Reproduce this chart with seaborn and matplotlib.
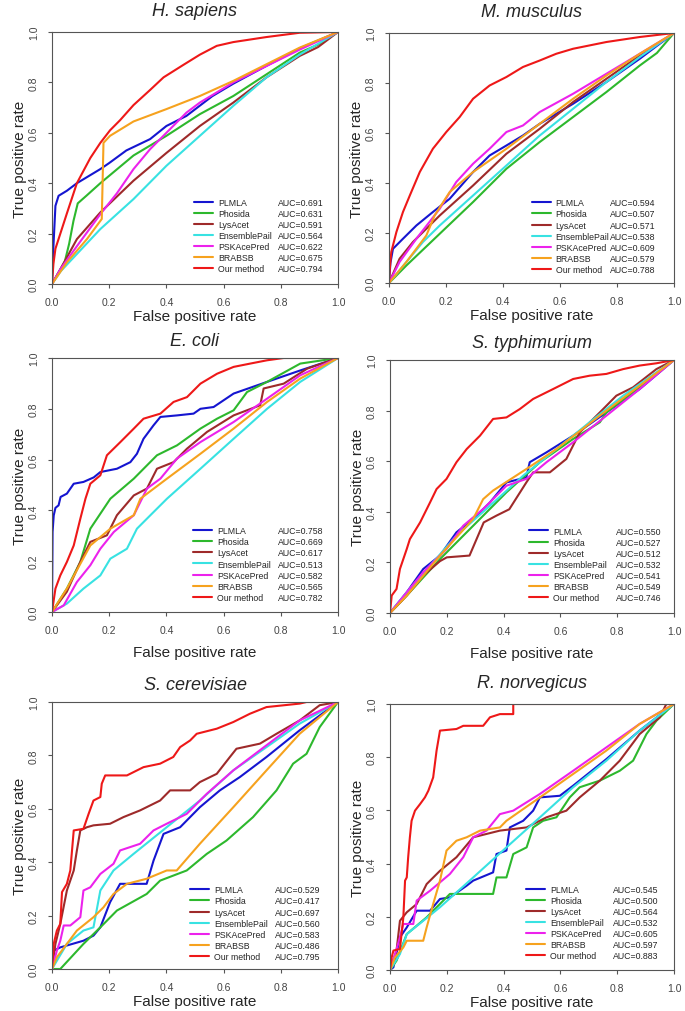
import pandas as pd
import matplotlib
matplotlib.use("Agg")
import matplotlib.pyplot as plt
from matplotlib.lines import Line2D
import seaborn as sns

# methods / colours shared by all panels
methods = ["PLMLA", "Phosida", "LysAcet", "EnsemblePail", "PSKAcePred", "BRABSB", "Our method"]
colors = ["#1515d0", "#2db82d", "#9e2a2a", "#38e2e2", "#ec22ec", "#f6a21e", "#ee1818"]
ticks = [0.0, 0.2, 0.4, 0.6, 0.8, 1.0]

# H. sapiens
hs_plmla = [(0,0),(0.005,0.15),(0.012,0.31),(0.023,0.35),(0.052,0.37),(0.087,0.40),(0.169,0.456),(0.2,0.48),(0.26,0.53),(0.343,0.575),(0.40,0.627),(0.47,0.667),(0.56,0.745),(0.634,0.795),(0.75,0.866),(0.866,0.935),(1,1)]
hs_phosida = [(0,0),(0.02,0.04),(0.045,0.09),(0.06,0.16),(0.075,0.25),(0.09,0.32),(0.12,0.35),(0.169,0.40),(0.285,0.51),(0.40,0.588),(0.517,0.674),(0.634,0.746),(0.75,0.832),(0.866,0.918),(0.93,0.95),(1,1)]
hs_lysacet = [(0,0),(0.03,0.06),(0.087,0.178),(0.169,0.284),(0.285,0.41),(0.40,0.52),(0.517,0.627),(0.634,0.72),(0.75,0.82),(0.866,0.905),(0.93,0.94),(1,1)]
hs_ensemble = [(0,0),(0.03,0.05),(0.087,0.119),(0.169,0.218),(0.285,0.337),(0.40,0.469),(0.517,0.588),(0.634,0.707),(0.75,0.82),(0.866,0.91),(1,1)]
hs_psk = [(0,0),(0.03,0.06),(0.087,0.15),(0.169,0.277),(0.227,0.36),(0.285,0.456),(0.343,0.535),(0.40,0.60),(0.47,0.68),(0.517,0.72),(0.634,0.80),(0.75,0.865),(0.866,0.93),(1,1)]
hs_brabsb = [(0,0),(0.052,0.086),(0.122,0.178),(0.174,0.258),(0.18,0.56),(0.203,0.588),(0.285,0.645),(0.40,0.694),(0.517,0.746),(0.634,0.806),(0.75,0.872),(0.866,0.938),(1,1)]
hs_ours = [(0,0),(0.005,0.08),(0.012,0.14),(0.052,0.28),(0.087,0.40),(0.134,0.50),(0.169,0.56),(0.203,0.61),(0.238,0.65),(0.285,0.71),(0.343,0.77),(0.39,0.82),(0.46,0.87),(0.517,0.91),(0.576,0.945),(0.634,0.96),(0.75,0.98),(0.866,0.997),(1,1)]
hs_auc = [0.691, 0.631, 0.591, 0.564, 0.622, 0.675, 0.794]

# M. musculus
mm_plmla = [(0,0),(0.005,0.08),(0.014,0.137),(0.049,0.177),(0.096,0.23),(0.154,0.284),(0.213,0.337),(0.295,0.444),(0.353,0.51),(0.412,0.55),(0.47,0.59),(0.529,0.637),(0.646,0.717),(0.763,0.804),(0.88,0.897),(1,1)]
mm_phosida = [(0,0),(0.061,0.07),(0.178,0.197),(0.295,0.324),(0.412,0.457),(0.529,0.564),(0.646,0.664),(0.763,0.764),(0.88,0.87),(0.94,0.92),(1,1)]
mm_lysacet = [(0,0),(0.037,0.097),(0.084,0.164),(0.178,0.27),(0.295,0.39),(0.412,0.517),(0.529,0.617),(0.646,0.724),(0.763,0.817),(0.88,0.91),(1,1)]
mm_ensemble = [(0,0),(0.061,0.084),(0.119,0.164),(0.178,0.23),(0.295,0.35),(0.412,0.47),(0.529,0.59),(0.646,0.697),(0.763,0.804),(0.88,0.904),(1,1)]
mm_psk = [(0,0),(0.037,0.084),(0.096,0.177),(0.178,0.297),(0.236,0.404),(0.295,0.477),(0.353,0.537),(0.412,0.604),(0.47,0.63),(0.529,0.684),(0.646,0.757),(0.763,0.837),(0.88,0.917),(1,1)]
mm_brabsb = [(0,0),(0.061,0.084),(0.131,0.19),(0.16,0.27),(0.213,0.364),(0.295,0.444),(0.412,0.537),(0.529,0.637),(0.646,0.737),(0.763,0.83),(0.88,0.917),(1,1)]
mm_ours = [(0,0),(0.003,0.06),(0.008,0.124),(0.026,0.204),(0.049,0.284),(0.073,0.35),(0.108,0.444),(0.154,0.537),(0.201,0.604),(0.248,0.664),(0.295,0.737),(0.353,0.79),(0.412,0.824),(0.47,0.864),(0.529,0.89),(0.587,0.917),(0.646,0.937),(0.763,0.964),(0.88,0.984),(1,1)]
mm_auc = [0.594, 0.507, 0.571, 0.538, 0.609, 0.579, 0.788]

# E. coli
ec_plmla = [(0,0),(0.002,0.315),(0.006,0.38),(0.012,0.41),(0.023,0.42),(0.03,0.453),(0.052,0.466),(0.076,0.505),(0.11,0.512),(0.146,0.53),(0.169,0.551),(0.227,0.564),(0.274,0.59),(0.297,0.623),(0.32,0.682),(0.355,0.735),(0.379,0.768),(0.437,0.774),(0.495,0.781),(0.519,0.80),(0.565,0.807),(0.635,0.86),(0.752,0.906),(0.868,0.951),(1,1)]
ec_phosida = [(0,0),(0.052,0.092),(0.099,0.197),(0.134,0.328),(0.204,0.446),(0.286,0.525),(0.367,0.617),(0.437,0.656),(0.519,0.722),(0.577,0.761),(0.635,0.794),(0.682,0.866),(0.752,0.906),(0.868,0.978),(1,1)]
ec_lysacet = [(0,0),(0.052,0.08),(0.099,0.197),(0.134,0.276),(0.192,0.302),(0.227,0.381),(0.286,0.459),(0.332,0.486),(0.367,0.564),(0.425,0.59),(0.472,0.643),(0.542,0.709),(0.635,0.774),(0.728,0.814),(0.74,0.88),(0.81,0.899),(0.892,0.958),(1,1)]
ec_ensemble = [(0,0),(0.052,0.033),(0.11,0.092),(0.169,0.144),(0.204,0.21),(0.262,0.249),(0.297,0.328),(0.344,0.381),(0.402,0.446),(0.519,0.564),(0.635,0.682),(0.752,0.80),(0.868,0.906),(1,1)]
ec_psk = [(0,0),(0.041,0.026),(0.087,0.118),(0.134,0.184),(0.169,0.249),(0.216,0.315),(0.286,0.381),(0.332,0.486),(0.379,0.525),(0.437,0.604),(0.519,0.669),(0.635,0.748),(0.752,0.84),(0.868,0.932),(1,1)]
ec_brabsb = [(0,0),(0.052,0.092),(0.134,0.262),(0.204,0.328),(0.286,0.381),(0.309,0.446),(0.402,0.525),(0.519,0.623),(0.635,0.722),(0.752,0.827),(0.868,0.919),(1,1)]
ec_ours = [(0,0),(0.012,0.092),(0.029,0.144),(0.052,0.197),(0.076,0.262),(0.099,0.367),(0.117,0.446),(0.134,0.505),(0.169,0.538),(0.192,0.617),(0.239,0.669),(0.286,0.722),(0.32,0.761),(0.379,0.781),(0.425,0.827),(0.472,0.846),(0.519,0.899),(0.577,0.938),(0.635,0.965),(0.693,0.978),(0.752,0.991),(0.81,1.0),(1,1)]
ec_auc = [0.758, 0.669, 0.617, 0.513, 0.582, 0.565, 0.782]

# S. typhimurium
st_plmla = [(0,0),(0.059,0.082),(0.117,0.174),(0.176,0.227),(0.234,0.319),(0.293,0.372),(0.352,0.437),(0.41,0.516),(0.48,0.536),(0.492,0.596),(0.551,0.635),(0.645,0.701),(0.762,0.793),(0.879,0.885),(1,1)]
st_phosida = [(0,0),(0.059,0.069),(0.176,0.213),(0.293,0.345),(0.41,0.477),(0.528,0.596),(0.645,0.688),(0.739,0.754),(0.762,0.793),(0.879,0.892),(1,1)]
st_lysacet = [(0,0),(0.059,0.069),(0.117,0.148),(0.176,0.205),(0.2,0.22),(0.28,0.227),(0.33,0.358),(0.375,0.385),(0.42,0.41),(0.48,0.516),(0.504,0.556),(0.563,0.556),(0.621,0.609),(0.668,0.714),(0.739,0.793),(0.797,0.859),(0.856,0.892),(0.938,0.964),(1,1)]
st_ensemble = [(0,0),(0.059,0.082),(0.141,0.187),(0.234,0.306),(0.352,0.424),(0.469,0.543),(0.586,0.648),(0.703,0.754),(0.821,0.859),(1,1)]
st_psk = [(0,0),(0.059,0.082),(0.117,0.161),(0.199,0.253),(0.258,0.345),(0.328,0.411),(0.41,0.503),(0.48,0.53),(0.551,0.596),(0.645,0.675),(0.762,0.78),(0.879,0.885),(1,1)]
st_brabsb = [(0,0),(0.059,0.069),(0.176,0.227),(0.293,0.372),(0.328,0.45),(0.363,0.484),(0.48,0.569),(0.586,0.648),(0.762,0.80),(1,1)]
st_ours = [(0,0),(0.006,0.069),(0.023,0.095),(0.035,0.174),(0.059,0.253),(0.07,0.292),(0.106,0.358),(0.141,0.437),(0.164,0.49),(0.199,0.53),(0.234,0.596),(0.27,0.648),(0.317,0.701),(0.363,0.767),(0.41,0.773),(0.457,0.806),(0.504,0.846),(0.574,0.885),(0.645,0.925),(0.703,0.938),(0.762,0.945),(0.821,0.964),(0.879,0.978),(0.938,0.987),(1,1)]
st_auc = [0.550, 0.527, 0.512, 0.532, 0.541, 0.549, 0.746]

# S. cerevisiae
sc_plmla = [(0,0),(0.006,0.069),(0.029,0.081),(0.052,0.088),(0.11,0.106),(0.145,0.125),(0.169,0.156),(0.203,0.25),(0.238,0.319),(0.331,0.319),(0.355,0.406),(0.39,0.506),(0.448,0.531),(0.517,0.606),(0.587,0.669),(0.657,0.719),(0.75,0.794),(0.866,0.894),(1,1)]
sc_phosida = [(0,0),(0.029,0),(0.11,0.094),(0.169,0.156),(0.227,0.219),(0.331,0.281),(0.378,0.331),(0.471,0.369),(0.541,0.431),(0.61,0.481),(0.703,0.569),(0.785,0.669),(0.843,0.769),(0.89,0.806),(0.936,0.906),(1,1)]
sc_lysacet = [(0,0),(0.012,0.094),(0.029,0.169),(0.052,0.294),(0.076,0.369),(0.087,0.444),(0.099,0.519),(0.122,0.531),(0.145,0.538),(0.203,0.544),(0.25,0.569),(0.308,0.594),(0.378,0.631),(0.413,0.669),(0.483,0.669),(0.517,0.7),(0.576,0.731),(0.622,0.794),(0.645,0.825),(0.727,0.844),(0.785,0.881),(0.866,0.931),(0.936,0.988),(1,1)]
sc_ensemble = [(0,0),(0.052,0.094),(0.11,0.144),(0.145,0.156),(0.169,0.294),(0.215,0.369),(0.285,0.431),(0.401,0.531),(0.517,0.631),(0.634,0.744),(0.75,0.831),(0.866,0.919),(1,1)]
sc_psk = [(0,0),(0.017,0.069),(0.029,0.106),(0.041,0.163),(0.064,0.163),(0.099,0.194),(0.11,0.294),(0.134,0.306),(0.169,0.356),(0.215,0.394),(0.238,0.444),(0.308,0.469),(0.355,0.519),(0.401,0.544),(0.471,0.581),(0.541,0.656),(0.634,0.744),(0.75,0.838),(0.866,0.931),(1,1)]
sc_brabsb = [(0,0),(0.017,0.044),(0.052,0.094),(0.087,0.144),(0.145,0.194),(0.18,0.231),(0.215,0.281),(0.262,0.319),(0.331,0.338),(0.401,0.369),(0.436,0.369),(0.517,0.469),(0.634,0.606),(0.75,0.744),(0.866,0.881),(1,1)]
sc_ours = [(0,0),(0.006,0.094),(0.017,0.144),(0.029,0.169),(0.035,0.288),(0.052,0.319),(0.064,0.369),(0.07,0.444),(0.076,0.519),(0.11,0.525),(0.128,0.581),(0.145,0.631),(0.169,0.644),(0.174,0.694),(0.186,0.725),(0.262,0.725),(0.32,0.756),(0.378,0.769),(0.424,0.794),(0.448,0.831),(0.483,0.856),(0.506,0.881),(0.576,0.9),(0.634,0.925),(0.692,0.956),(0.75,0.981),(0.866,0.994),(0.89,1.0),(1,1)]
sc_auc = [0.529, 0.417, 0.697, 0.560, 0.583, 0.486, 0.795]

# R. norvegicus
rn_plmla = [(0,0),(0.012,0.01),(0.035,0.123),(0.059,0.16),(0.094,0.223),(0.141,0.223),(0.176,0.267),(0.211,0.273),(0.27,0.317),(0.293,0.336),(0.363,0.367),(0.375,0.436),(0.41,0.449),(0.422,0.536),(0.469,0.561),(0.504,0.599),(0.528,0.649),(0.598,0.655),(0.645,0.693),(0.762,0.793),(0.879,0.9),(1,1)]
rn_phosida = [(0,0),(0.023,0.035),(0.059,0.135),(0.129,0.198),(0.211,0.286),(0.363,0.286),(0.375,0.348),(0.41,0.348),(0.434,0.436),(0.481,0.461),(0.504,0.536),(0.539,0.561),(0.586,0.574),(0.633,0.649),(0.668,0.687),(0.739,0.712),(0.809,0.749),(0.856,0.787),(0.903,0.887),(0.938,0.937),(1,1)]
rn_lysacet = [(0,0),(0.023,0.073),(0.035,0.185),(0.059,0.217),(0.094,0.248),(0.129,0.323),(0.176,0.373),(0.234,0.424),(0.293,0.499),(0.387,0.524),(0.481,0.536),(0.551,0.574),(0.621,0.599),(0.668,0.649),(0.739,0.712),(0.809,0.787),(0.879,0.887),(0.95,0.95),(0.973,1.0),(1,1)]
rn_ensemble = [(0,0),(0.035,0.06),(0.059,0.135),(0.117,0.185),(0.176,0.236),(0.293,0.348),(0.41,0.461),(0.528,0.574),(0.645,0.687),(0.762,0.787),(0.879,0.9),(1,1)]
rn_psk = [(0,0),(0.018,0.06),(0.035,0.123),(0.047,0.173),(0.082,0.173),(0.094,0.261),(0.141,0.298),(0.211,0.361),(0.258,0.424),(0.293,0.499),(0.34,0.524),(0.387,0.586),(0.434,0.599),(0.528,0.662),(0.645,0.749),(0.762,0.837),(0.879,0.925),(1,1)]
rn_brabsb = [(0,0),(0.018,0.048),(0.047,0.085),(0.059,0.11),(0.117,0.11),(0.129,0.16),(0.152,0.248),(0.176,0.336),(0.199,0.449),(0.234,0.486),(0.27,0.499),(0.317,0.524),(0.387,0.536),(0.41,0.561),(0.528,0.649),(0.645,0.737),(0.762,0.825),(0.879,0.925),(1,1)]
rn_ours = [(0,0),(0.006,0.048),(0.012,0.073),(0.035,0.079),(0.047,0.198),(0.053,0.336),(0.059,0.348),(0.064,0.424),(0.07,0.499),(0.076,0.561),(0.088,0.599),(0.106,0.624),(0.123,0.649),(0.135,0.674),(0.152,0.724),(0.164,0.825),(0.176,0.9),(0.234,0.906),(0.258,0.918),(0.328,0.918),(0.352,0.95),(0.387,0.962),(0.434,0.962),(0.434,1.0),(1,1)]
rn_auc = [0.545, 0.500, 0.564, 0.532, 0.605, 0.597, 0.883]

titles = ["H. sapiens", "M. musculus", "E. coli", "S. typhimurium", "S. cerevisiae", "R. norvegicus"]
curves = [
    [hs_plmla, hs_phosida, hs_lysacet, hs_ensemble, hs_psk, hs_brabsb, hs_ours],
    [mm_plmla, mm_phosida, mm_lysacet, mm_ensemble, mm_psk, mm_brabsb, mm_ours],
    [ec_plmla, ec_phosida, ec_lysacet, ec_ensemble, ec_psk, ec_brabsb, ec_ours],
    [st_plmla, st_phosida, st_lysacet, st_ensemble, st_psk, st_brabsb, st_ours],
    [sc_plmla, sc_phosida, sc_lysacet, sc_ensemble, sc_psk, sc_brabsb, sc_ours],
    [rn_plmla, rn_phosida, rn_lysacet, rn_ensemble, rn_psk, rn_brabsb, rn_ours],
]
aucs = [hs_auc, mm_auc, ec_auc, st_auc, sc_auc, rn_auc]

# layout: axes boxes in pixels (left, top, right, bottom), plus label offsets
W, H = 685, 1012
boxes = [(52, 33, 338, 285), (389, 34, 674, 284),
         (52, 359, 338, 613), (390, 361, 674, 614),
         (52, 703, 338, 970), (390, 705, 674, 971)]
xlab_pad = [1, 1, 7, 7, 1, 1]
title_pad = [12, 12, 9, 9, 9, 12]
leg_x = [0.497, 0.50, 0.493, 0.49, 0.483, 0.479]
auc_x = [0.79, 0.775, 0.79, 0.796, 0.78, 0.785]
leg_y = [0.043, 0.036, 0.04, 0.043, 0.03, 0.036]

sns.set_style("ticks")
plt.rcParams["font.family"] = ["Liberation Sans", "DejaVu Sans"]
plt.rcParams["axes.edgecolor"] = "#555555"
plt.rcParams["axes.linewidth"] = 0.8

fig = plt.figure(figsize=(W / 100, H / 100), dpi=100)

for i in range(6):
    l, t, r, b = boxes[i]
    ax = fig.add_axes([l / W, 1 - b / H, (r - l) / W, (b - t) / H])

    rows = []
    for name, pts in zip(methods, curves[i]):
        for k, (x, y) in enumerate(pts):
            rows.append({"method": name, "fpr": x, "tpr": y, "k": k})
    df = pd.DataFrame(rows)
    sns.lineplot(data=df, x="fpr", y="tpr", hue="method", hue_order=methods,
                 palette=colors, sort=False, estimator=None, legend=False,
                 lw=1.5, ax=ax)

    ax.set_xlim(0, 1)
    ax.set_ylim(0, 1)
    ax.set_xticks(ticks)
    ax.set_yticks(ticks)
    ax.set_xticklabels([f"{v:.1f}" for v in ticks])
    ax.set_yticklabels([f"{v:.1f}" for v in ticks], rotation=90, va="center")
    ax.tick_params(length=3, width=0.8, color="#555555", labelcolor="#444444",
                   labelsize=7.5, pad=6.5)
    for s in ax.spines.values():
        s.set_visible(True)
        s.set_color("#555555")
    ax.set_xlabel("False positive rate", fontsize=11, labelpad=xlab_pad[i])
    ax.set_ylabel("True positive rate", fontsize=11, labelpad=1.5)
    ax.set_title(titles[i], fontsize=13, style="italic", pad=title_pad[i])

    handles = ax.get_lines()[:7]
    leg1 = ax.legend(handles, methods, loc="lower left", bbox_to_anchor=(leg_x[i], leg_y[i]),
                     frameon=False, fontsize=6.3, handlelength=2.2, handletextpad=0.55,
                     labelspacing=0.24, borderpad=0, borderaxespad=0)
    ax.add_artist(leg1)
    blank = [Line2D([], [], color="none") for _ in methods]
    ax.legend(blank, [f"AUC={a:.3f}" for a in aucs[i]], loc="lower left",
              bbox_to_anchor=(auc_x[i], leg_y[i]), frameon=False, fontsize=6.3,
              handlelength=0, handletextpad=0, labelspacing=0.24,
              borderpad=0, borderaxespad=0)

fig.savefig("out.png", dpi=100)
